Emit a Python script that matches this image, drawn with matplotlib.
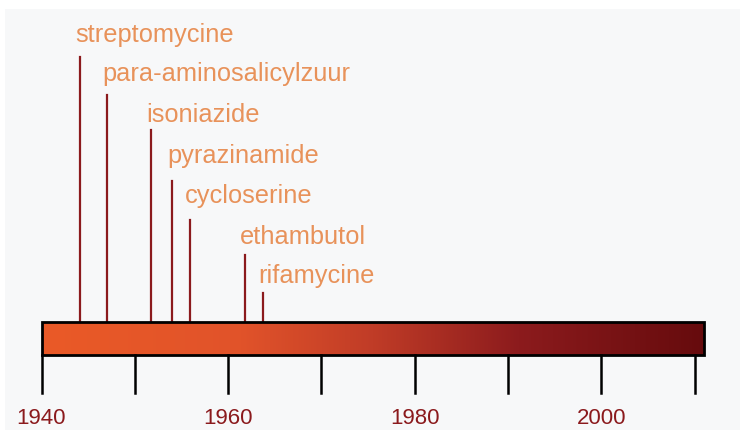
import matplotlib.pyplot as plt
import numpy as np
from matplotlib.colors import LinearSegmentedColormap
from matplotlib.patches import Rectangle

# data
drugs = ['streptomycine', 'para-aminosalicylzuur', 'isoniazide', 'pyrazinamide',
         'cycloserine', 'ethambutol', 'rifamycine']
years = [1944.1, 1947.0, 1951.7, 1954.0, 1955.9, 1961.8, 1963.7]
tick_years = [1940, 1950, 1960, 1970, 1980, 1990, 2000, 2010]
label_years = [1940, 1960, 1980, 2000]
start, end = 1940, 2011

# layout (pixel rows, top = 0)
text_y = [35, 74, 115, 156, 196, 237, 276]
line_top = [57, 95, 130, 181, 220, 255, 293]
bar_top, bar_bot = 322, 355
tick_bot = 393

plt.rcParams['font.family'] = ['Liberation Sans', 'DejaVu Sans']
fig = plt.figure(figsize=(7.4, 4.3), dpi=100)
fig.patch.set_facecolor('white')
fig.patches.append(Rectangle((5 / 740, 0), 735 / 740, 421 / 430, transform=fig.transFigure,
                             facecolor='#f7f8f9', edgecolor='none', zorder=-10))
ax = fig.add_axes([0, 0, 1, 1])
ax.set_facecolor('none')
ppy = 9.33
x0 = 1940 - 41.5 / ppy

cmap = LinearSegmentedColormap.from_list('tb', [(0, '#ea5a27'), (0.3, '#e1532a'), (0.5, '#c03c27'),
                                                (0.72, '#8c1b1d'), (1, '#660b0d')])
grad = np.linspace(0, 1, 256).reshape(1, -1)
ax.imshow(grad, cmap=cmap, aspect='auto', extent=(start, end, bar_bot, bar_top), zorder=2)
ax.add_patch(Rectangle((start, bar_top), end - start, bar_bot - bar_top, fill=False,
                       edgecolor='black', linewidth=2, zorder=3))
ax.set_xlim(x0, x0 + 740 / ppy)
ax.set_ylim(430, 0)
ax.axis('off')

for t in tick_years:
    ax.plot([t, t], [bar_bot, tick_bot], color='black', linewidth=1.8, zorder=2)
for t in label_years:
    ax.text(t, 418, str(t), ha='center', va='center', fontsize=16, color='#8b1a1d')

for d, yr, ty, lt in zip(drugs, years, text_y, line_top):
    ax.plot([yr, yr], [lt, bar_top], color='#8b1a1d', linewidth=1.6, zorder=1)
    ax.text(yr - 0.5, ty, d, ha='left', va='center', fontsize=18.3, color='#e8925a')

plt.savefig('out.png', dpi=100)
